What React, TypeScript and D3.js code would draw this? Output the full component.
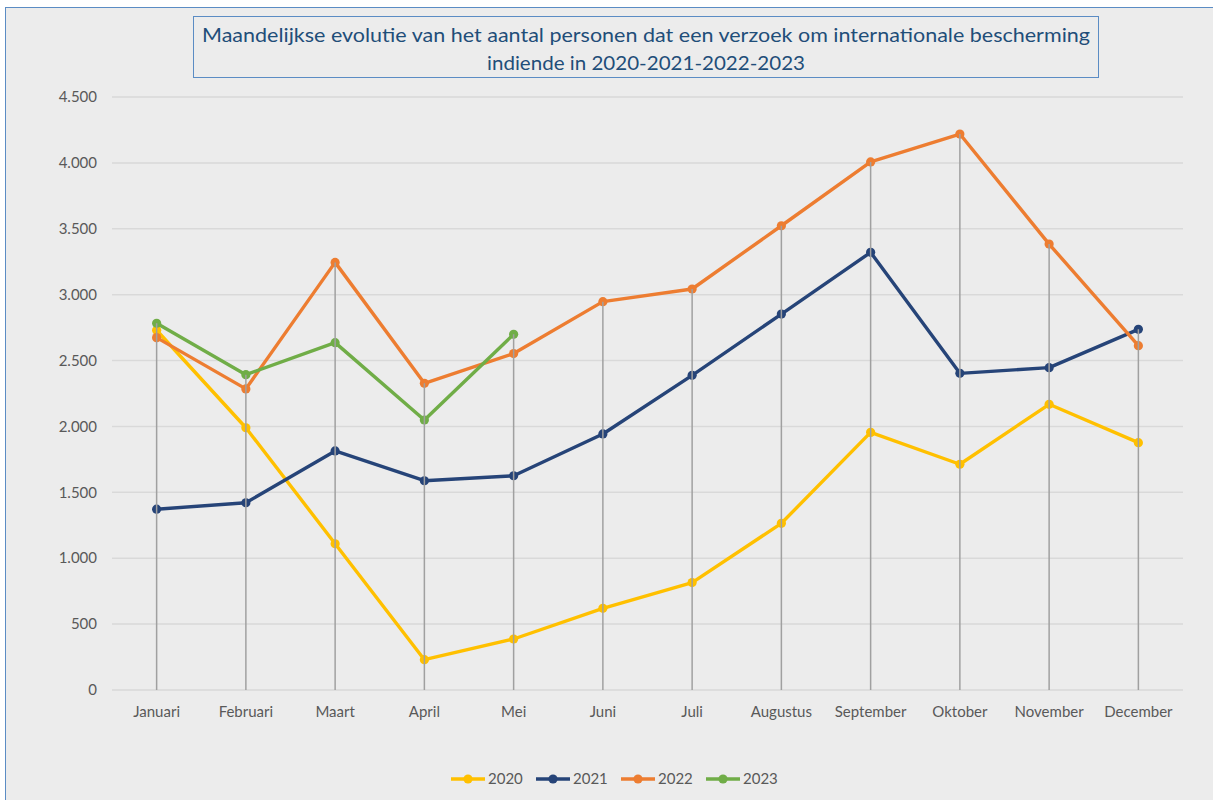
import React from "react";
import * as d3 from "d3";

const months = [
  "Januari", "Februari", "Maart", "April", "Mei", "Juni",
  "Juli", "Augustus", "September", "Oktober", "November", "December",
];

const years = ["2020", "2021", "2022", "2023"];

const values2020 = [2730, 1990, 1110, 230, 387, 620, 815, 1265, 1955, 1713, 2168, 1877];
const values2021 = [1372, 1421, 1814, 1588, 1626, 1943, 2388, 2853, 3321, 2403, 2446, 2737];
const values2022 = [2674, 2285, 3245, 2327, 2553, 2947, 3043, 3523, 4007, 4219, 3384, 2613];
const values2023 = [2783, 2393, 2636, 2049, 2699];

const yTicks = [0, 500, 1000, 1500, 2000, 2500, 3000, 3500, 4000, 4500];

const colors = ["#FFC000", "#264478", "#ED7D31", "#70AD47"];

const titleLines = [
  "Maandelijkse evolutie van het aantal personen dat een verzoek om internationale bescherming",
  "indiende in 2020-2021-2022-2023",
];

const font = "Lato, 'Open Sans', sans-serif";

export default function App() {
  const width = 1213;
  const height = 800;
  const margin = { top: 97, left: 112, bottom: 110, right: 30 };
  const iwidth = width - margin.left - margin.right;
  const iheight = height - margin.top - margin.bottom;

  const x = d3.scaleBand().domain(months).range([0, iwidth]);
  const y = d3.scaleLinear().domain([0, 4500]).range([iheight, 0]);

  const series = [values2020, values2021, values2022, values2023];
  const line = d3
    .line<number>()
    .x((_, i) => x(months[i])! + x.bandwidth() / 2)
    .y(d => y(d));

  const fmt = (v: number) => d3.format(",")(v).replace(/,/g, ".");

  // Excel drop lines: from highest point of each category down to axis
  const tops = months.map((_, i) =>
    d3.max(series.map(s => s[i]).filter(v => v !== undefined)) as number
  );

  return (
    <svg
      width={width}
      height={height}
      style={{ position: "absolute", left: 0, top: 0, background: "#fff" }}
    >
      <rect x={5.5} y={7.5} width={width} height={height} fill="#ececec" stroke="#5b8cc4" strokeWidth={1} />

      <rect x={193.5} y={16.5} width={905} height={61} fill="#ececec" stroke="#5b8cc4" strokeWidth={1} />
      {titleLines.map((t, i) => (
        <text
          key={i}
          x={646}
          y={42 + i * 28}
          textAnchor="middle"
          fontFamily={font}
          fontSize={20}
          fill="#1f4e79"
          textLength={i === 0 ? 888 : 318}
          lengthAdjust="spacingAndGlyphs"
        >
          {t}
        </text>
      ))}

      <g transform={`translate(${margin.left},${margin.top})`}>
        {yTicks.map(t => (
          <g key={t}>
            <line x1={0} x2={iwidth} y1={y(t)} y2={y(t)} stroke="#d9d9d9" strokeWidth={1.5} />
            <text
              x={-15}
              y={y(t)}
              dy="0.35em"
              textAnchor="end"
              fontFamily={font}
              fontSize={15}
              fill="#595959"
            >
              {fmt(t)}
            </text>
          </g>
        ))}

        {months.map(m => (
          <text
            key={m}
            x={x(m)! + x.bandwidth() / 2}
            y={iheight + 22}
            dy="0.35em"
            textAnchor="middle"
            fontFamily={font}
            fontSize={15}
            fill="#595959"
          >
            {m}
          </text>
        ))}

        {series.map((s, k) => (
          <g key={years[k]}>
            <path d={line(s)!} fill="none" stroke={colors[k]} strokeWidth={3.4} strokeLinejoin="round" />
            {s.map((v, i) => (
              <circle key={i} cx={x(months[i])! + x.bandwidth() / 2} cy={y(v)} r={4.6} fill={colors[k]} />
            ))}
          </g>
        ))}

        {tops.map((v, i) => (
          <line
            key={i}
            x1={x(months[i])! + x.bandwidth() / 2}
            x2={x(months[i])! + x.bandwidth() / 2}
            y1={y(v)}
            y2={iheight}
            stroke="#a0a0a0"
            strokeWidth={1.5}
          />
        ))}
      </g>

      <g transform="translate(451,779)">
        {years.map((yr, k) => (
          <g key={yr} transform={`translate(${k * 85},0)`}>
            <line x1={0} x2={34} y1={0} y2={0} stroke={colors[k]} strokeWidth={3.4} />
            <circle cx={17} cy={0} r={4.6} fill={colors[k]} />
            <text x={37} y={0} dy="0.35em" fontFamily={font} fontSize={15} fill="#595959">
              {yr}
            </text>
          </g>
        ))}
      </g>
    </svg>
  );
}
